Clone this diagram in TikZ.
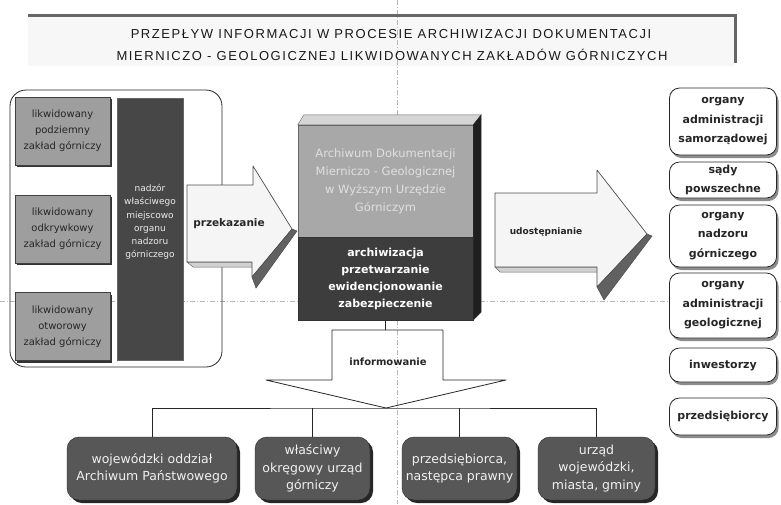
\documentclass[tikz,border=0pt]{standalone}
\usepackage{fontspec}
\setmainfont{DejaVu Sans}
\newfontfamily\titlefont{Liberation Sans}[LetterSpace=12]
\usetikzlibrary{shadows}

\tikzset{
  guide/.style={black!28, line width=0.6pt, dash pattern=on 5pt off 2pt on 1pt off 2pt},
  titletext/.style={font=\titlefont\fontsize{13}{15}\selectfont, text=black!90},
  minebox/.style={rectangle, draw=black!75, fill=black!38, text=black!85, align=center,
    minimum width=95pt, minimum height=68pt, inner sep=1pt,
    font=\fontsize{10}{16}\selectfont,
    drop shadow={shadow xshift=2pt, shadow yshift=-2pt, fill=black!80, opacity=1}},
  nadzorbar/.style={rectangle, fill=black!72, draw=black!60,
    minimum width=66pt, minimum height=262pt},
  nadzortext/.style={text=black!8, align=center, font=\fontsize{9}{13.3}\selectfont},
  arrowface/.style={draw=black!70, fill=black!4, line width=0.7pt, line join=round},
  arrowdark/.style={fill=black!62, draw=black!70, line width=0.5pt},
  arrowlight/.style={fill=black!18, draw=black!60, line width=0.5pt},
  arrowlabel/.style={font=\bfseries\fontsize{10.5}{12}\selectfont, text=black!85},
  archtop/.style={rectangle, fill=black!34, draw=black!60, text=black!12, align=center,
    minimum width=175pt, minimum height=112pt, font=\fontsize{11.5}{18}\selectfont},
  archbot/.style={rectangle, fill=black!76, draw=black!80, text=white, align=center,
    minimum width=175pt, minimum height=83pt, font=\bfseries\fontsize{11}{17}\selectfont},
  orgbox/.style={rectangle, rounded corners=10pt, draw=black!85, fill=white, line width=0.8pt,
    align=center, minimum width=107pt, inner sep=2pt, text=black!85,
    font=\bfseries\fontsize{11}{19.5}\selectfont,
    drop shadow={shadow xshift=2pt, shadow yshift=-3pt, fill=black!45, opacity=1}},
  sinkbox/.style={rectangle, rounded corners=12pt, draw=black!85, fill=black!66, text=black!6,
    align=center, minimum height=63pt, inner sep=2pt,
    font=\fontsize{12.5}{17.5}\selectfont,
    drop shadow={shadow xshift=3pt, shadow yshift=-3pt, fill=black!85, opacity=1}},
  wire/.style={black!85, line width=0.8pt}
}

\begin{document}
\begin{tikzpicture}[x=1pt,y=-1pt]
\useasboundingbox (0,0) rectangle (781,504);

% title
\fill[black!3] (28,16) rectangle (735,66);
\draw[guide] (397,0) -- (397,504);
\draw[guide] (0,301) -- (781,301);
\draw[black!60, line width=3pt] (28,15) -- (735,15) -- (735,63);
\node[titletext] at (391,34) (title1) {PRZEPŁYW INFORMACJI W PROCESIE ARCHIWIZACJI DOKUMENTACJI};
\node[titletext] at (392,55) (title2) {MIERNICZO - GEOLOGICZNEJ LIKWIDOWANYCH ZAKŁADÓW GÓRNICZYCH};

% liquidated mines
\node[draw=black!85, line width=0.8pt, rounded corners=16pt, minimum width=212pt, minimum height=277pt] at (116,228.5) (mines) {};
\node[minebox] at (62.5,131) (podziemny) {likwidowany\\podziemny\\zakład górniczy};
\node[minebox] at (62.5,229) (odkrywkowy) {likwidowany\\odkrywkowy\\zakład górniczy};
\node[minebox] at (62.5,326.5) (otworowy) {likwidowany\\otworowy\\zakład górniczy};
\node[nadzorbar] at (150,229) (nadzor) {};
\node[nadzortext] at (150,222) (nadzorlabel) {nadzór\\właściwego\\miejscowo\\organu\\nadzoru\\górniczego};

% handing over
\filldraw[arrowlight] (187,262) -- (252,262) -- (256,267) -- (193,267) -- cycle;
\filldraw[arrowface] (187,185) -- (253,185) -- (253,166) -- (292,229) -- (252,277) -- (252,262) -- (187,262) -- cycle;
\filldraw[arrowdark] (292,229) -- (252,277) -- (256,288) -- (297,231) -- cycle;
\node[arrowlabel] at (229,224) (przekazanie) {przekazanie};

% archive
\node[archtop] at (385.5,181) (archiwum) {Archiwum Dokumentacji\\Mierniczo - Geologicznej\\w Wyższym Urzędzie\\Górniczym};
\node[archbot] at (385.5,278.5) (zadania) {archiwizacja\\przetwarzanie\\ewidencjonowanie\\zabezpieczenie};
\filldraw[fill=black!16, draw=black!60] (archiwum.north west) -- ++(6,-10) -- ([shift={(8,-10)}]archiwum.north east) -- (archiwum.north east) -- cycle;
\filldraw[fill=black!88, draw=black!80] (archiwum.north east) -- ++(8,-10) -- ([shift={(8,-8)}]zadania.south east) -- (zadania.south east) -- cycle;

% sharing
\filldraw[arrowlight] (495,267) -- (597,267) -- (601,272) -- (500,272) -- cycle;
\filldraw[arrowface] (495,193) -- (597,193) -- (597,170) -- (647,234) -- (597,287) -- (597,267) -- (495,267) -- cycle;
\filldraw[arrowdark] (647,234) -- (597,287) -- (604,300) -- (652,236) -- cycle;
\node[arrowlabel, font=\bfseries\fontsize{9}{11}\selectfont] at (546,232) (udostepnianie) {udostępnianie};

% recipients
\node[orgbox, minimum height=67pt] at (723,121.5) (samorzad) {organy\\administracji\\samorządowej};
\node[orgbox, minimum height=36pt] at (723,180) (sady) {sądy\\powszechne};
\node[orgbox, minimum height=62pt] at (723,236) (nadzorgorn) {organy\\nadzoru\\górniczego};
\node[orgbox, minimum height=65pt] at (723,305.5) (geolog) {organy\\administracji\\geologicznej};
\node[orgbox, minimum height=34pt] at (723,365) (inwestorzy) {inwestorzy};
\node[orgbox, minimum height=37pt] at (723,416.5) (przedsiebiorcy) {przedsiębiorcy};

% informing
\coordinate (infotop) at (385.5,330);
\coordinate (bus) at (386,408);
\draw[wire] (zadania.south) -- (infotop);
\draw[wire, line join=round] (332,330) -- (443,330) -- (443,380) -- (506,380) -- (bus) -- (266,380) -- (332,380) -- cycle;
\node[arrowlabel, font=\bfseries\fontsize{10}{12}\selectfont] at (388,362) (informowanie) {informowanie};

\node[sinkbox, minimum width=170pt] at (152,468.5) (oddzial) {wojewódzki oddział\\Archiwum Państwowego};
\node[sinkbox, minimum width=115pt] at (312.5,468.5) (okregowy) {właściwy\\okręgowy urząd\\górniczy};
\node[sinkbox, minimum width=115pt] at (459.5,468.5) (nastepca) {przedsiębiorca,\\następca prawny};
\node[sinkbox, minimum width=117pt] at (596.5,468.5) (urzad) {urząd\\wojewódzki,\\miasta, gminy};
\draw[wire] (oddzial.north) |- (bus) -| (urzad.north);
\draw[wire] (okregowy.north) -- (okregowy.north |- bus);
\draw[wire] (nastepca.north) -- (nastepca.north |- bus);
\end{tikzpicture}
\end{document}
